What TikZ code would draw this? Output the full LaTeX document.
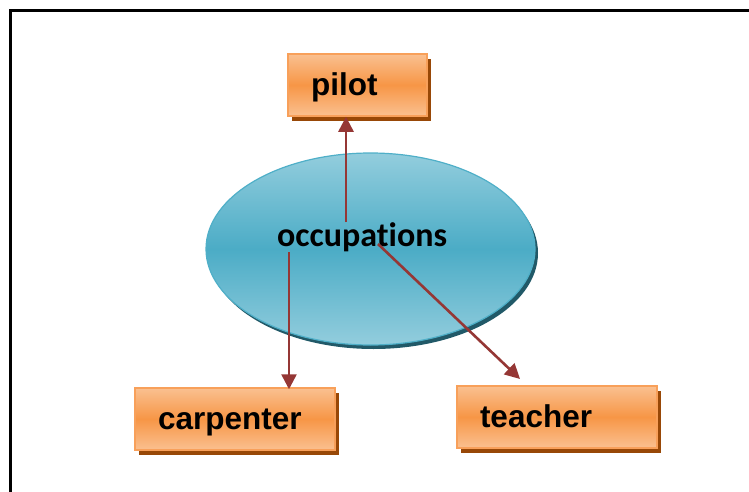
\documentclass[tikz,border=0pt]{standalone}
\usepackage{fontspec}
\setmainfont{Liberation Sans}
\newfontfamily\calfont[Ligatures={NoCommon,NoRare,NoContextual}]{Carlito}
\usetikzlibrary{arrows.meta,shadows,shapes.geometric}
\definecolor{boxlight}{HTML}{FAC090}
\definecolor{boxmid}{HTML}{F79646}
\definecolor{boxedge}{HTML}{F8A05A}
\definecolor{boxshadow}{HTML}{984807}
\definecolor{elllight}{HTML}{93CDDD}
\definecolor{ellmid}{HTML}{4BACC6}
\definecolor{elledge}{HTML}{4FAFC8}
\definecolor{ellshadow}{HTML}{215968}
\definecolor{arrowred}{HTML}{953735}
\tikzset{
  occbox/.style={rectangle, draw=boxedge, line width=1.5pt,
    top color=boxlight, bottom color=boxlight, middle color=boxmid,
    minimum height=62pt, inner xsep=23pt, inner ysep=0pt,
    align=left, text height=22pt, text depth=1pt,
    font=\fontsize{31.5}{36}\selectfont\bfseries,
    drop shadow={shadow xshift=4pt, shadow yshift=-5pt, fill=boxshadow, opacity=1}},
  occell/.style={ellipse, draw=elledge, line width=1.2pt,
    top color=elllight, bottom color=elllight, middle color=ellmid,
    minimum width=329pt, minimum height=192pt, inner sep=0pt,
    drop shadow={shadow xshift=3pt, shadow yshift=-4pt, fill=ellshadow, opacity=1}},
  conn/.style={draw=arrowred, line width=2.6pt,
    -{Triangle[length=15pt,width=15pt]}},
}
\begin{document}
\begin{tikzpicture}[x=1pt,y=-1pt]
\useasboundingbox (0,0) rectangle (749,492);
\draw[line width=2.2pt, black] (10.5,492) -- (10.5,10.5) -- (749,10.5);

\node[occell] (occ) at (370.5,249) {};
\node[anchor=base west, inner sep=0pt, font=\calfont\fontsize{34}{40}\selectfont\bfseries] (occtext) at (277,246) {occupations};

\node[occbox, text width=93pt] (pilot) at (357.5,85) {pilot};
\node[occbox, text width=154pt] (carpenter) at (235,419) {carpenter};
\node[occbox, text width=154pt] (teacher) at (557,417) {teacher};

\coordinate (s1) at (346,222);
\coordinate (s2) at (289,252);
\coordinate (s3) at (378,244);
\coordinate (t3) at (520,379);

\draw[conn] (s1) -- (s1 |- pilot.south);
\draw[conn] (s2) -- ([yshift=-2pt]s2 |- carpenter.north);
\draw[conn] (s3) -- (t3);
\end{tikzpicture}
\end{document}
